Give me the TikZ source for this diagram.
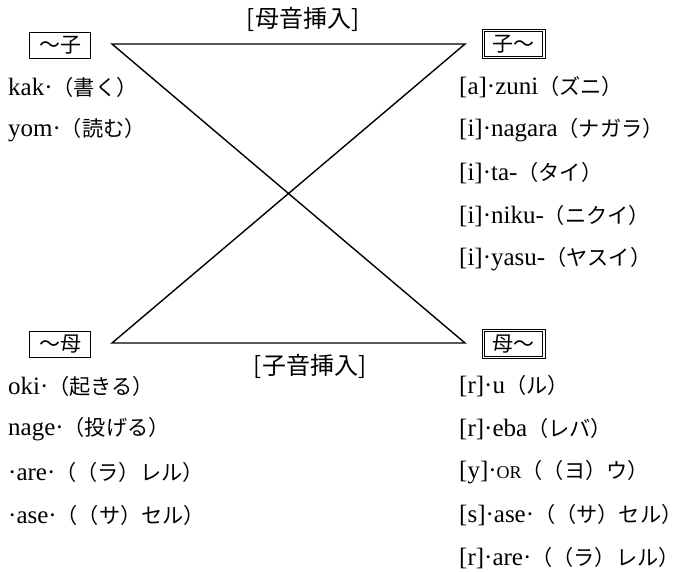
\documentclass[tikz,border=0pt]{standalone}
\usepackage{fontspec}
\setmainfont{Liberation Serif}
\newfontfamily\jp{Noto Sans CJK JP}
\newcommand{\jt}[1]{{\fontsize{21.2}{24}\selectfont\jp #1}}
\newcommand{\sm}[1]{{\fontsize{18}{18}\selectfont #1}}
\begin{document}
\begin{tikzpicture}[x=1pt,y=-1pt,
  txt/.style={inner sep=0pt, anchor=west, font=\fontsize{25}{28}\selectfont},
  lbl/.style={inner sep=0pt, font=\fontsize{24}{26}\selectfont\jp},
  sbox/.style={draw, line width=0.8pt, inner sep=2pt, minimum width=61pt, minimum height=26pt, font=\fontsize{21}{22}\selectfont\jp},
  dbox/.style={draw, line width=0.8pt, inner sep=2pt, minimum width=63pt, minimum height=29pt, font=\fontsize{21}{22}\selectfont\jp},
  inner/.style={line width=0.7pt},
  conn/.style={line width=1.4pt}]
\useasboundingbox (0,0) rectangle (687,571);
% boxes
\node[sbox] (lt) at (60,45) {～子};
\node[dbox] (rt) at (513.5,44) {子～};
\node[sbox] (lb) at (60,344) {～母};
\node[dbox] (rb) at (513.5,344) {母～};
\draw[inner] ([shift={(2.6pt,-2.6pt)}]rt.north west) rectangle ([shift={(-2.6pt,2.6pt)}]rt.south east);
\draw[inner] ([shift={(2.6pt,-2.6pt)}]rb.north west) rectangle ([shift={(-2.6pt,2.6pt)}]rb.south east);
% corner coordinates
\coordinate (TL) at (112,44);
\coordinate (TR) at (465,44);
\coordinate (BL) at (112,343);
\coordinate (BR) at (465,343);
\draw[conn, line join=miter] (TR) -- (TL) -- (BR) -- (BL) -- cycle;
% labels
\node[lbl] (vi) at (303,19) {[母音挿入]};
\node[lbl] (ci) at (310,366) {[子音挿入]};
% left top items
\node[txt] (a1) at (8,87) {kak·\jt{（書く）}};
\node[txt] (a2) at (8,130) {yom·\jt{（読む）}};
% right top items
\node[txt] (b1) at (459,87) {[a]·zuni\jt{（ズニ）}};
\node[txt] (b2) at (459,130) {[i]·nagara\jt{（ナガラ）}};
\node[txt] (b3) at (459,173) {[i]·ta-\jt{（タイ）}};
\node[txt] (b4) at (459,216) {[i]·niku-\jt{（ニクイ）}};
\node[txt] (b5) at (459,259) {[i]·yasu-\jt{（ヤスイ）}};
% left bottom items
\node[txt] (c1) at (8,386) {oki·\jt{（起きる）}};
\node[txt] (c2) at (8,429) {nage·\jt{（投げる）}};
\node[txt] (c3) at (8,472) {·are·\jt{（（ラ）レル）}};
\node[txt] (c4) at (8,515) {·ase·\jt{（（サ）セル）}};
% right bottom items
\node[txt] (d1) at (459,386) {[r]·u\jt{（ル）}};
\node[txt] (d2) at (459,429) {[r]·eba\jt{（レバ）}};
\node[txt] (d3) at (459,472) {[y]·\sm{OR}\jt{（（ヨ）ウ）}};
\node[txt] (d4) at (459,515) {[s]·ase·\jt{（（サ）セル）}};
\node[txt] (d5) at (459,558) {[r]·are·\jt{（（ラ）レル）}};
\end{tikzpicture}
\end{document}
